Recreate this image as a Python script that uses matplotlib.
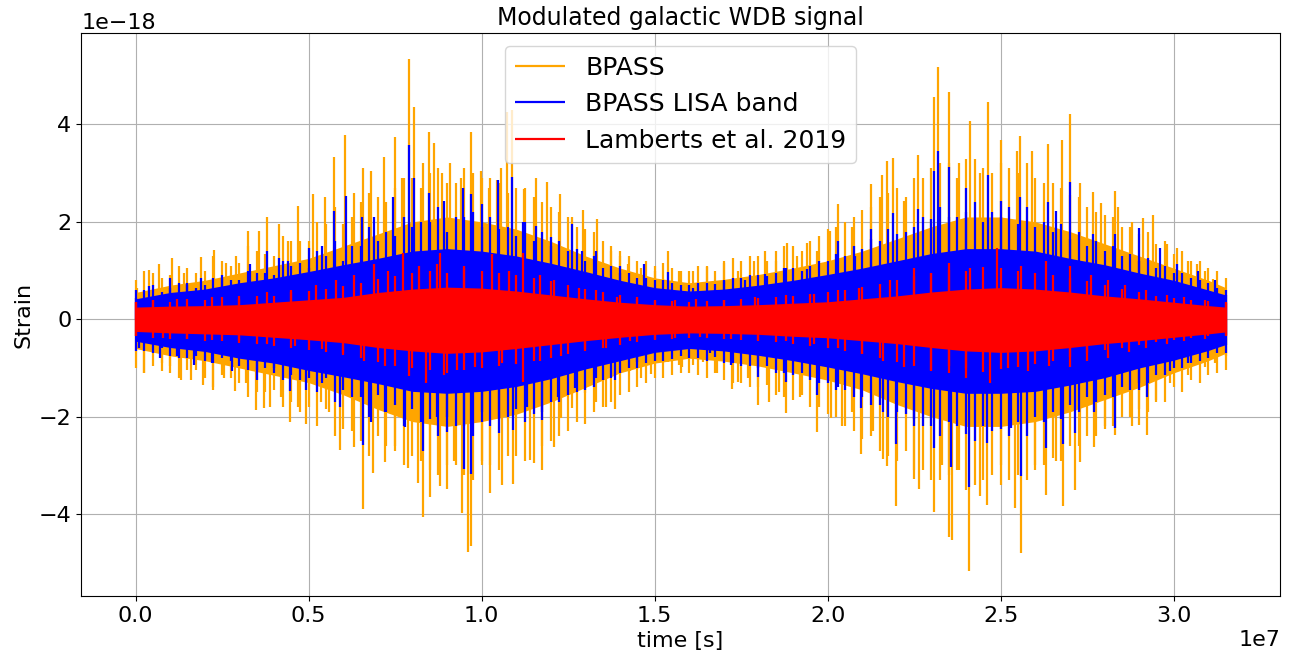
import numpy as np
import matplotlib
matplotlib.use('Agg')
import matplotlib.pyplot as plt

# time in 1e7 s, strain in 1e-18
t_env = [0, 0.1, 0.2, 0.3, 0.4, 0.5, 0.6, 0.7, 0.8, 0.9, 1.0, 1.1, 1.2, 1.3, 1.4, 1.5, 1.6,
         1.7, 1.8, 1.9, 2.0, 2.1, 2.2, 2.3, 2.4, 2.5, 2.6, 2.7, 2.8, 2.9, 3.0, 3.1, 3.15]

# dense core of each series (upper / lower)
bpass_core_hi = [0.55, 0.7, 0.8, 0.95, 1.1, 1.25, 1.5, 1.75, 2.0, 2.1, 2.0, 1.85, 1.6, 1.3, 1.05, 0.85, 0.75,
                 0.82, 0.92, 1.05, 1.2, 1.4, 1.65, 1.9, 2.1, 2.1, 2.0, 1.8, 1.55, 1.3, 1.05, 0.8, 0.65]
bpass_core_lo = [-0.6, -0.75, -0.85, -1.0, -1.15, -1.3, -1.55, -1.85, -2.1, -2.2, -2.1, -1.95, -1.7, -1.4, -1.1, -0.9, -0.8,
                 -0.86, -0.96, -1.1, -1.25, -1.45, -1.75, -2.0, -2.2, -2.2, -2.1, -1.9, -1.65, -1.4, -1.1, -0.85, -0.7]
lisa_core_hi = [0.42, 0.55, 0.62, 0.75, 0.85, 0.98, 1.12, 1.25, 1.4, 1.45, 1.4, 1.3, 1.15, 0.98, 0.8, 0.65, 0.58,
                0.62, 0.7, 0.8, 0.92, 1.05, 1.2, 1.35, 1.45, 1.45, 1.4, 1.25, 1.12, 0.95, 0.8, 0.6, 0.5]
lisa_core_lo = [-0.45, -0.58, -0.66, -0.8, -0.9, -1.05, -1.18, -1.32, -1.48, -1.52, -1.48, -1.38, -1.22, -1.02, -0.85, -0.68, -0.6,
                -0.65, -0.74, -0.85, -0.98, -1.12, -1.28, -1.42, -1.52, -1.52, -1.48, -1.35, -1.2, -1.0, -0.84, -0.64, -0.52]
lamb_core_hi = [0.25, 0.27, 0.28, 0.3, 0.35, 0.4, 0.45, 0.55, 0.62, 0.66, 0.64, 0.58, 0.5, 0.42, 0.35, 0.3, 0.27,
                0.28, 0.3, 0.33, 0.36, 0.42, 0.48, 0.56, 0.62, 0.65, 0.62, 0.56, 0.48, 0.42, 0.35, 0.28, 0.25]
lamb_core_lo = [-0.25, -0.28, -0.3, -0.32, -0.37, -0.42, -0.48, -0.58, -0.65, -0.7, -0.67, -0.6, -0.52, -0.44, -0.37, -0.31, -0.28,
                -0.29, -0.31, -0.35, -0.38, -0.44, -0.5, -0.58, -0.65, -0.68, -0.65, -0.58, -0.5, -0.44, -0.37, -0.3, -0.26]

# texture, sampled every 0.05e7 s
t_fine = np.linspace(0, 3.15, 64)
bpass_fine_hi = [0.8, 0.95, 0.9, 1.05, 1.0, 1.2, 1.15, 1.4, 1.3, 1.6,
                 1.6, 1.95, 1.95, 2.4, 2.5, 2.7, 2.9, 3.0, 2.8, 3.1,
                 2.9, 2.8, 2.7, 2.5, 2.3, 2.1, 1.85, 1.6, 1.4, 1.2,
                 1.1, 1.05, 1.0, 1.1, 1.15, 1.2, 1.3, 1.4, 1.5, 1.6,
                 1.85, 2.0, 2.25, 2.5, 2.7, 2.9, 3.1, 3.2, 3.3, 3.1,
                 3.2, 3.0, 2.9, 2.8, 2.55, 2.3, 2.15, 1.9, 1.75, 1.55,
                 1.35, 1.2, 1.05, 0.85]
bpass_fine_lo = [-1.0, -0.95, -1.1, -1.05, -1.2, -1.15, -1.3, -1.5, -1.45, -1.7,
                 -1.8, -1.85, -2.25, -2.5, -2.4, -2.7, -2.8, -3.1, -3.0, -3.2,
                 -2.9, -3.1, -2.8, -2.95, -2.5, -2.3, -2.15, -1.8, -1.55, -1.4,
                 -1.2, -1.15, -1.1, -1.2, -1.25, -1.3, -1.4, -1.55, -1.65, -1.8,
                 -1.95, -2.2, -2.45, -2.7, -2.9, -3.1, -3.3, -3.2, -3.5, -3.3,
                 -3.4, -3.2, -3.0, -2.85, -2.6, -2.4, -2.25, -2.0, -1.85, -1.65,
                 -1.4, -1.25, -1.15, -1.05]
lisa_fine_hi = [0.6, 0.7, 0.65, 0.75, 0.7, 0.85, 0.8, 0.95, 0.9, 1.1,
                1.05, 1.3, 1.2, 1.5, 1.6, 1.7, 1.9, 2.0, 1.8, 2.1,
                1.9, 1.85, 1.7, 1.6, 1.5, 1.4, 1.2, 1.05, 0.95, 0.85,
                0.8, 0.75, 0.7, 0.75, 0.8, 0.85, 0.9, 0.95, 1.05, 1.1,
                1.2, 1.3, 1.45, 1.6, 1.75, 1.9, 2.05, 2.1, 2.2, 2.0,
                2.1, 1.95, 1.9, 1.8, 1.65, 1.5, 1.4, 1.3, 1.2, 1.05,
                0.95, 0.85, 0.75, 0.6]
lisa_fine_lo = [-0.65, -0.7, -0.75, -0.8, -0.85, -0.8, -0.95, -1.05, -1.0, -1.15,
                -1.2, -1.2, -1.45, -1.6, -1.55, -1.75, -1.85, -2.05, -2.0, -2.2,
                -1.9, -2.05, -1.85, -1.95, -1.7, -1.55, -1.45, -1.25, -1.1, -1.0,
                -0.85, -0.82, -0.8, -0.85, -0.9, -0.95, -1.0, -1.1, -1.15, -1.25,
                -1.3, -1.45, -1.6, -1.75, -1.9, -2.05, -2.2, -2.1, -2.35, -2.2,
                -2.25, -2.1, -2.0, -1.9, -1.75, -1.6, -1.55, -1.4, -1.3, -1.15,
                -1.0, -0.9, -0.8, -0.7]
lamb_fine_hi = [0.35, 0.4, 0.36, 0.42, 0.4, 0.45, 0.42, 0.48, 0.47, 0.55,
                0.58, 0.62, 0.68, 0.75, 0.82, 0.88, 0.95, 1.0, 0.95, 1.05,
                1.0, 0.95, 0.9, 0.85, 0.78, 0.7, 0.62, 0.55, 0.5, 0.45,
                0.4, 0.38, 0.36, 0.38, 0.4, 0.42, 0.44, 0.46, 0.48, 0.52,
                0.56, 0.6, 0.66, 0.72, 0.8, 0.88, 0.95, 1.02, 1.0, 1.08,
                1.05, 1.0, 0.95, 0.9, 0.85, 0.78, 0.7, 0.62, 0.55, 0.48,
                0.44, 0.4, 0.37, 0.33]
lamb_fine_lo = [-0.35, -0.38, -0.4, -0.4, -0.44, -0.45, -0.48, -0.5, -0.54, -0.6,
                -0.64, -0.68, -0.74, -0.8, -0.88, -0.95, -1.0, -1.05, -1.1, -1.05,
                -1.0, -0.95, -0.92, -0.86, -0.8, -0.72, -0.65, -0.58, -0.52, -0.47,
                -0.42, -0.4, -0.38, -0.38, -0.4, -0.42, -0.44, -0.47, -0.5, -0.54,
                -0.58, -0.65, -0.72, -0.8, -0.88, -0.95, -1.05, -1.1, -1.0, -1.08,
                -1.02, -0.98, -0.92, -0.85, -0.78, -0.7, -0.64, -0.58, -0.52, -0.46,
                -0.42, -0.38, -0.35, -0.33]

# second texture row, halfway between the first
t_fine2 = np.linspace(0.025, 3.125, 63)
bpass_fine2_hi = [1.0, 0.85, 1.1, 0.95, 1.3, 1.1, 1.5, 1.35, 1.7, 1.6,
                  2.0, 2.3, 2.1, 2.6, 2.4, 2.9, 2.7, 3.1, 2.8, 3.0,
                  2.9, 2.6, 2.7, 2.4, 2.2, 1.9, 1.8, 1.5, 1.3, 1.2,
                  1.15, 1.0, 1.1, 1.0, 1.25, 1.3, 1.2, 1.5, 1.4, 1.7,
                  1.9, 2.1, 2.3, 2.6, 2.5, 2.9, 3.2, 2.9, 3.3, 3.0,
                  3.1, 3.2, 2.8, 2.7, 2.5, 2.2, 2.1, 1.9, 1.8, 1.6,
                  1.4, 1.2, 1.0]
bpass_fine2_lo = [-1.1, -0.9, -1.2, -1.05, -1.4, -1.2, -1.6, -1.5, -1.8, -1.9,
                  -2.2, -2.4, -2.3, -2.8, -2.6, -3.0, -2.9, -3.2, -3.0, -3.3,
                  -3.0, -2.8, -2.9, -2.6, -2.4, -2.1, -1.9, -1.7, -1.5, -1.3,
                  -1.2, -1.1, -1.15, -1.1, -1.3, -1.4, -1.35, -1.6, -1.55, -1.8,
                  -2.0, -2.3, -2.4, -2.8, -2.7, -3.1, -3.3, -3.1, -3.4, -3.2,
                  -3.3, -3.3, -3.0, -2.9, -2.6, -2.4, -2.2, -2.0, -1.9, -1.7,
                  -1.5, -1.3, -1.1]
lisa_fine2_hi = [0.6, 0.55, 0.75, 0.65, 0.85, 0.8, 1.0, 0.95, 1.2, 1.15,
                 1.4, 1.6, 1.5, 1.9, 1.8, 2.1, 2.0, 2.3, 2.1, 2.2,
                 2.1, 1.9, 2.0, 1.8, 1.6, 1.45, 1.3, 1.1, 0.95, 0.85,
                 0.8, 0.7, 0.75, 0.72, 0.85, 0.9, 0.88, 1.05, 1.0, 1.2,
                 1.35, 1.5, 1.65, 1.85, 1.8, 2.1, 2.3, 2.1, 2.4, 2.2,
                 2.3, 2.3, 2.0, 1.95, 1.8, 1.6, 1.5, 1.35, 1.25, 1.1,
                 0.95, 0.8, 0.65]
lisa_fine2_lo = [-0.65, -0.6, -0.8, -0.75, -0.9, -0.85, -1.05, -1.0, -1.25, -1.25,
                 -1.5, -1.7, -1.6, -2.0, -1.9, -2.2, -2.1, -2.4, -2.2, -2.4,
                 -2.2, -2.0, -2.1, -1.9, -1.7, -1.5, -1.4, -1.2, -1.0, -0.9,
                 -0.85, -0.75, -0.8, -0.78, -0.9, -0.95, -0.95, -1.1, -1.1, -1.3,
                 -1.45, -1.6, -1.75, -2.0, -1.95, -2.2, -2.4, -2.2, -2.5, -2.3,
                 -2.4, -2.4, -2.1, -2.05, -1.9, -1.7, -1.6, -1.45, -1.3, -1.15,
                 -1.0, -0.85, -0.7]

# largest spikes: BPASS
bpass_up_t = [0.004, 0.038, 0.069, 0.104, 0.14, 0.19, 0.228, 0.26, 0.29, 0.326, 0.357, 0.381, 0.414, 0.44, 0.47, 0.514,
              0.547, 0.574, 0.606, 0.63, 0.656, 0.68, 0.718, 0.75, 0.77, 0.789, 0.805, 0.83, 0.847, 0.863, 0.885, 0.91,
              0.94, 0.969, 0.999, 1.02, 1.044, 1.056, 1.073, 1.088, 1.122, 1.157, 1.188, 1.226, 1.26, 1.292, 1.334,
              1.373, 1.4, 1.423, 1.46, 1.5, 1.539, 1.57, 1.61, 1.652, 1.7, 1.74, 1.788, 1.818, 1.85, 1.882, 1.91,
              1.941, 1.97, 2.006, 2.031, 2.07, 2.126, 2.158, 2.172, 2.189, 2.22, 2.261, 2.306, 2.319, 2.35, 2.38,
              2.41, 2.44, 2.462, 2.502, 2.547, 2.556, 2.59, 2.638, 2.676, 2.699, 2.73, 2.768, 2.79, 2.829, 2.84,
              2.88, 2.91, 2.939, 2.98, 3.01, 3.04, 3.066, 3.09, 3.114, 3.14]
bpass_up_v = [0.64, 1.02, 1.13, 1.26, 0.95, 1.28, 1.43, 1.15, 1.3, 1.81, 1.81, 2.09, 1.95, 1.6, 2.32, 2.57,
              2.52, 3.33, 3.79, 2.6, 3.1, 3.05, 3.34, 3.74, 2.9, 5.35, 4.36, 3.2, 3.84, 3.61, 3.0, 3.21,
              2.9, 3.85, 3.05, 2.7, 2.85, 3.1, 4.25, 4.29, 2.67, 2.89, 2.81, 2.58, 2.1, 2.25, 2.05,
              1.4, 1.3, 1.13, 1.05, 0.99, 1.4, 1.0, 0.99, 1.08, 1.2, 1.0, 1.2, 1.4, 1.2, 1.57, 1.3,
              1.57, 1.4, 1.81, 2.36, 1.9, 2.78, 2.97, 3.24, 3.31, 2.43, 3.38, 4.56, 5.17, 4.67, 3.2,
              4.07, 3.0, 4.45, 3.67, 3.46, 3.77, 3.46, 3.6, 3.68, 4.22, 2.8, 2.61, 2.39, 2.64, 2.3,
              2.0, 2.07, 2.14, 1.54, 1.47, 1.2, 1.13, 1.0, 0.82, 0.6]
bpass_dn_t = [0.01, 0.025, 0.075, 0.1, 0.13, 0.16, 0.195, 0.225, 0.255, 0.286, 0.32, 0.349, 0.37, 0.388, 0.42, 0.445,
              0.47, 0.493, 0.535, 0.56, 0.592, 0.632, 0.658, 0.685, 0.72, 0.75, 0.788, 0.815, 0.832, 0.85, 0.88,
              0.9, 0.92, 0.943, 0.96, 0.968, 1.0, 1.024, 1.06, 1.09, 1.14, 1.175, 1.21, 1.23, 1.26, 1.3, 1.33,
              1.36, 1.386, 1.43, 1.46, 1.49, 1.54, 1.57, 1.58, 1.61, 1.64, 1.68, 1.724, 1.74, 1.77, 1.8, 1.83,
              1.86, 1.88, 1.92, 1.97, 2.01, 2.04, 2.07, 2.095, 2.13, 2.16, 2.17, 2.198, 2.25, 2.265, 2.306, 2.33,
              2.352, 2.36, 2.38, 2.407, 2.44, 2.46, 2.5, 2.54, 2.558, 2.6, 2.63, 2.66, 2.68, 2.714, 2.73, 2.77,
              2.8, 2.83, 2.88, 2.9, 2.922, 2.95, 2.99, 3.04, 3.09, 3.12, 3.15]
bpass_dn_v = [-0.52, -1.11, -1.06, -0.95, -1.24, -1.24, -1.35, -1.45, -1.2, -1.48, -1.3, -1.87, -1.83, -1.8, -1.6, -2.1,
              -1.8, -2.16, -1.69, -1.9, -2.69, -2.62, -3.89, -3.15, -2.93, -2.6, -3.05, -3.37, -4.06, -3.65, -3.43,
              -3.48, -2.9, -3.98, -4.77, -4.65, -3.0, -3.57, -3.41, -3.39, -2.89, -3.1, -2.62, -2.03, -1.83, -1.52, -1.7,
              -1.8, -1.85, -1.07, -1.2, -1.13, -0.87, -0.93, -0.97, -0.93, -0.87, -1.1, -1.44, -1.28, -1.2, -1.76, -1.7,
              -1.5, -1.92, -1.6, -2.32, -2.03, -2.19, -1.9, -2.76, -2.3, -2.87, -3.01, -3.83, -3.27, -3.48, -3.96, -3.0,
              -4.48, -4.54, -3.1, -5.16, -3.62, -3.81, -3.0, -3.88, -4.8, -3.1, -3.6, -2.9, -3.83, -3.51, -2.93, -2.62,
              -2.2, -2.38, -2.19, -2.17, -2.38, -1.7, -1.31, -1.14, -0.97, -0.9, -0.76]

# largest spikes: BPASS LISA band
lisa_up_t = [0.0, 0.04, 0.1, 0.15, 0.19, 0.25, 0.33, 0.381, 0.414, 0.44, 0.5, 0.54, 0.574, 0.607, 0.655, 0.69,
             0.745, 0.789, 0.805, 0.847, 0.89, 0.947, 0.969, 1.0, 1.046, 1.088, 1.12, 1.157, 1.2, 1.26, 1.29, 1.33,
             1.4, 1.47, 1.54, 1.61, 1.7, 1.76, 1.82, 1.88, 1.94, 2.03, 2.08, 2.126, 2.189, 2.261, 2.306, 2.319,
             2.35, 2.4, 2.462, 2.5, 2.556, 2.638, 2.66, 2.699, 2.768, 2.829, 2.9, 2.96, 3.01, 3.07, 3.12, 3.15]
lisa_up_v = [0.44, 0.68, 0.85, 0.7, 0.85, 0.9, 1.13, 1.4, 1.26, 1.2, 1.47, 1.5, 2.23, 2.53, 2.09, 2.1,
             2.51, 3.58, 2.91, 2.6, 2.43, 2.7, 2.57, 2.36, 2.85, 2.93, 2.0, 1.92, 1.68, 1.95, 1.4, 1.4,
             1.1, 1.13, 0.96, 0.65, 0.78, 0.8, 0.92, 1.05, 1.04, 1.6, 1.3, 1.86, 2.19, 2.26, 3.05, 3.45,
             3.13, 2.7, 2.96, 2.43, 2.52, 2.4, 2.23, 2.82, 1.75, 1.75, 1.88, 1.47, 1.13, 0.99, 0.8, 0.5]
lisa_dn_t = [0.01, 0.07, 0.12, 0.17, 0.22, 0.28, 0.35, 0.4, 0.445, 0.493, 0.54, 0.59, 0.658, 0.68, 0.72, 0.78,
             0.832, 0.87, 0.9, 0.95, 0.968, 1.0, 1.05, 1.09, 1.13, 1.175, 1.22, 1.27, 1.33, 1.386, 1.45, 1.54,
             1.61, 1.66, 1.72, 1.8, 1.88, 1.97, 2.03, 2.095, 2.16, 2.198, 2.25, 2.306, 2.355, 2.407, 2.46, 2.53,
             2.558, 2.63, 2.68, 2.714, 2.77, 2.83, 2.9, 2.922, 2.99, 3.04, 3.09, 3.15]
lisa_dn_v = [-0.59, -0.8, -0.75, -0.93, -0.9, -1.07, -1.24, -1.1, -1.48, -1.45, -1.3, -1.8, -2.58, -2.1, -1.9, -2.21,
             -2.71, -2.0, -2.32, -3.07, -3.17, -2.1, -2.34, -2.27, -1.8, -2.07, -1.6, -1.42, -1.2, -1.24, -0.87, -0.66,
             -0.59, -0.7, -0.93, -1.18, -1.28, -1.55, -1.4, -1.83, -1.9, -2.57, -2.2, -2.64, -3.03, -3.44, -2.53, -2.24,
             -3.22, -2.65, -2.57, -2.34, -1.9, -2.24, -1.45, -1.59, -1.07, -0.9, -0.63, -0.52]

# largest spikes: Lamberts et al. 2019
lamb_up_t = [0.0, 0.05, 0.12, 0.22, 0.3, 0.38, 0.45, 0.52, 0.58, 0.63, 0.69, 0.73, 0.774, 0.82, 0.87, 0.88,
             0.95, 1.03, 1.08, 1.12, 1.17, 1.21, 1.28, 1.33, 1.39, 1.45, 1.5, 1.56, 1.62, 1.7, 1.79, 1.88,
             1.96, 2.03, 2.09, 2.18, 2.25, 2.3, 2.35, 2.41, 2.49, 2.56, 2.63, 2.7, 2.76, 2.81, 2.86, 2.92,
             2.98, 3.03, 3.09, 3.15]
lamb_up_v = [0.35, 0.4, 0.42, 0.45, 0.48, 0.55, 0.6, 0.7, 0.8, 0.9, 1.13, 1.0, 1.37, 1.1, 1.13, 1.37,
             1.1, 1.35, 1.0, 1.37, 0.9, 0.8, 0.65, 0.6, 0.45, 0.42, 0.38, 0.4, 0.42, 0.4, 0.45, 0.5,
             0.52, 0.6, 0.65, 0.8, 1.05, 0.95, 1.15, 1.05, 1.47, 1.1, 1.2, 1.1, 0.9, 0.8, 0.7, 0.6,
             0.5, 0.45, 0.4, 0.35]
lamb_dn_t = [0.0, 0.08, 0.15, 0.22, 0.3, 0.38, 0.46, 0.54, 0.6, 0.66, 0.72, 0.79, 0.84, 0.89, 0.93, 0.98,
             1.06, 1.12, 1.17, 1.23, 1.3, 1.36, 1.43, 1.5, 1.56, 1.63, 1.72, 1.8, 1.88, 1.96, 2.03, 2.1,
             2.16, 2.22, 2.3, 2.35, 2.4, 2.47, 2.52, 2.58, 2.64, 2.7, 2.75, 2.81, 2.87, 2.92, 2.98, 3.03,
             3.09, 3.15]
lamb_dn_v = [-0.35, -0.38, -0.4, -0.42, -0.45, -0.5, -0.55, -0.62, -0.7, -0.85, -0.95, -1.17, -1.31, -1.14, -1.05, -0.98,
             -0.9, -1.28, -0.85, -0.75, -0.62, -0.6, -0.45, -0.4, -0.38, -0.36, -0.4, -0.42, -0.45, -0.5, -0.6, -0.72,
             -0.85, -0.99, -1.07, -0.95, -1.21, -1.31, -1.0, -1.07, -0.95, -0.99, -0.85, -0.8, -0.68, -0.58, -0.5, -0.45,
             -0.4, -0.35]

series = [
    ('BPASS', 'orange', bpass_core_hi, bpass_core_lo, bpass_fine_hi, bpass_fine_lo,
     bpass_fine2_hi, bpass_fine2_lo, bpass_up_t, bpass_up_v, bpass_dn_t, bpass_dn_v),
    ('BPASS LISA band', 'blue', lisa_core_hi, lisa_core_lo, lisa_fine_hi, lisa_fine_lo,
     lisa_fine2_hi, lisa_fine2_lo, lisa_up_t, lisa_up_v, lisa_dn_t, lisa_dn_v),
    ('Lamberts et al. 2019', 'red', lamb_core_hi, lamb_core_lo, lamb_fine_hi, lamb_fine_lo,
     None, None, lamb_up_t, lamb_up_v, lamb_dn_t, lamb_dn_v),
]

fig, ax = plt.subplots(figsize=(12.97, 6.61), dpi=100)
plt.subplots_adjust(left=0.0625, right=0.987, top=0.95, bottom=0.098)

te = np.array(t_env) * 1e7
for i, (name, col, hi, lo, fhi, flo, f2hi, f2lo, ut, uv, dt, dv) in enumerate(series):
    z = 2 + i
    ax.fill_between(te, np.array(lo) * 1e-18, np.array(hi) * 1e-18, color=col, lw=0, zorder=z)
    ax.vlines(t_fine * 1e7, np.array(flo) * 1e-18, np.array(fhi) * 1e-18, color=col, lw=1.6, zorder=z)
    if f2hi is not None:
        ax.vlines(t_fine2 * 1e7, np.array(f2lo) * 1e-18, np.array(f2hi) * 1e-18, color=col, lw=1.6, zorder=z)
    ax.vlines(np.array(ut) * 1e7, 0, np.array(uv) * 1e-18, color=col, lw=1.6, zorder=z, label=name)
    ax.vlines(np.array(dt) * 1e7, np.array(dv) * 1e-18, 0, color=col, lw=1.6, zorder=z)

ax.set_axisbelow(True)
ax.grid(True)
ax.tick_params(labelsize=16)
ax.xaxis.get_offset_text().set_fontsize(16)
ax.yaxis.get_offset_text().set_fontsize(16)
ax.set_xlabel('time [s]', fontsize=16)
ax.set_ylabel('Strain', fontsize=16)
ax.set_title('Modulated galactic WDB signal', fontsize=17)
leg = ax.legend(loc='upper center', fontsize=18)
leg.set_zorder(10)

plt.savefig('out.png')
